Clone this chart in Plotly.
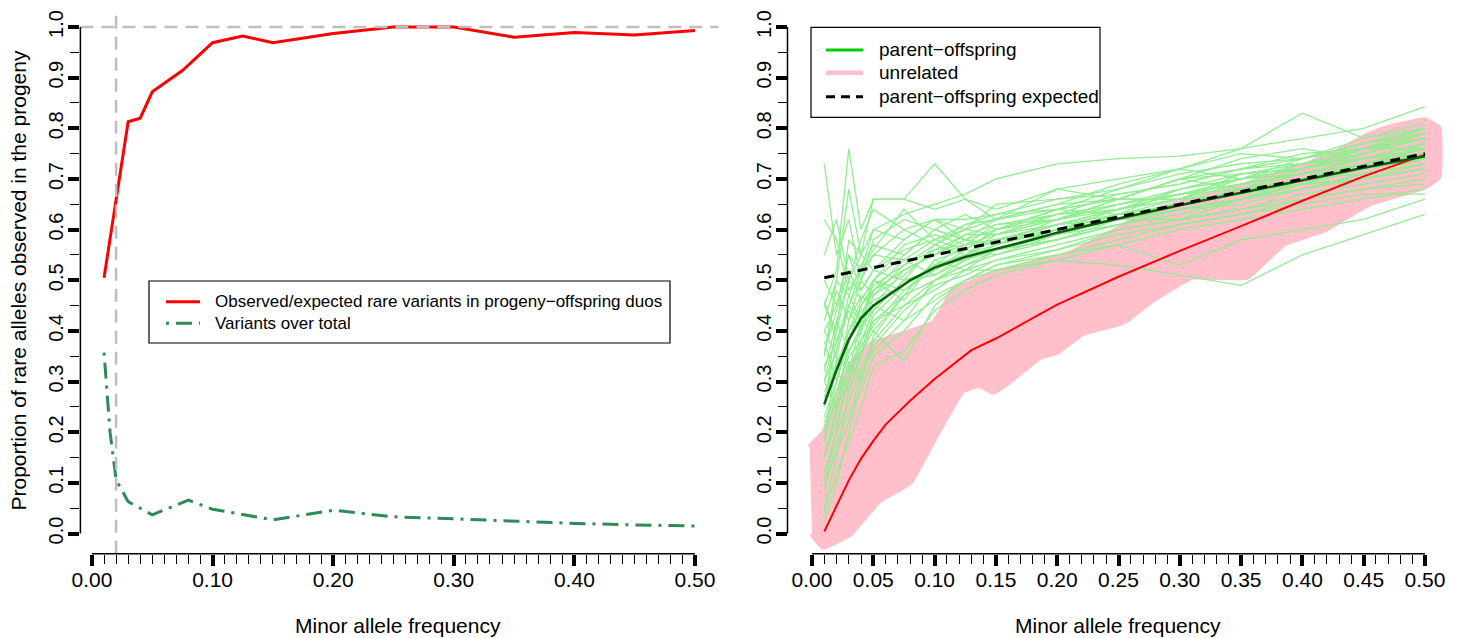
import plotly.graph_objects as go

# ---------------- data: left panel ----------------
obs_x = [0.01, 0.03, 0.04, 0.05, 0.075, 0.10, 0.125, 0.15, 0.20, 0.25, 0.30, 0.35, 0.40, 0.45, 0.50]
obs_y = [0.505, 0.813, 0.820, 0.872, 0.914, 0.969, 0.982, 0.969, 0.987, 1.0, 1.0, 0.980, 0.989, 0.984, 0.993]

var_x = [0.01, 0.015, 0.02, 0.03, 0.05, 0.08, 0.10, 0.15, 0.20, 0.25, 0.30, 0.35, 0.40, 0.45, 0.50]
var_y = [0.357, 0.20, 0.106, 0.063, 0.037, 0.066, 0.048, 0.027, 0.046, 0.033, 0.029, 0.024, 0.020, 0.017, 0.015]

ref_h = 1.0    # horizontal reference line
ref_v = 0.02   # vertical reference line

# ---------------- data: right panel ----------------
g_x = [0.01, 0.02, 0.03, 0.04, 0.05, 0.075, 0.10, 0.125, 0.15, 0.20, 0.25, 0.30, 0.35, 0.40, 0.45, 0.50]
po_lines = [
    [0.73, 0.55, 0.62, 0.50, 0.58, 0.62, 0.60, 0.58, 0.62, 0.65, 0.66, 0.70, 0.72, 0.75, 0.76, 0.79],
    [0.45, 0.52, 0.76, 0.60, 0.66, 0.66, 0.64, 0.66, 0.62, 0.68, 0.70, 0.72, 0.70, 0.74, 0.76, 0.78],
    [0.30, 0.40, 0.58, 0.55, 0.66, 0.66, 0.73, 0.66, 0.64, 0.68, 0.66, 0.70, 0.74, 0.76, 0.74, 0.77],
    [0.40, 0.45, 0.55, 0.52, 0.60, 0.58, 0.62, 0.60, 0.65, 0.66, 0.68, 0.72, 0.76, 0.83, 0.78, 0.80],
    [0.35, 0.50, 0.68, 0.55, 0.60, 0.63, 0.65, 0.67, 0.70, 0.73, 0.74, 0.745, 0.76, 0.78, 0.80, 0.843],
    [0.15, 0.25, 0.30, 0.38, 0.42, 0.45, 0.50, 0.52, 0.52, 0.54, 0.53, 0.51, 0.49, 0.55, 0.59, 0.63],
    [0.10, 0.20, 0.32, 0.36, 0.40, 0.34, 0.45, 0.50, 0.53, 0.55, 0.57, 0.53, 0.58, 0.60, 0.62, 0.66],
    [0.25, 0.38, 0.45, 0.42, 0.50, 0.55, 0.60, 0.58, 0.57, 0.62, 0.64, 0.67, 0.69, 0.71, 0.73, 0.75],
    [0.20, 0.30, 0.38, 0.45, 0.48, 0.52, 0.55, 0.57, 0.58, 0.60, 0.63, 0.65, 0.68, 0.70, 0.72, 0.74],
    [0.05, 0.15, 0.28, 0.35, 0.42, 0.47, 0.50, 0.53, 0.55, 0.58, 0.61, 0.63, 0.66, 0.68, 0.71, 0.73],
    [0.32, 0.42, 0.50, 0.48, 0.52, 0.56, 0.58, 0.56, 0.60, 0.63, 0.65, 0.68, 0.70, 0.73, 0.75, 0.78],
    [0.40, 0.35, 0.45, 0.50, 0.47, 0.53, 0.56, 0.59, 0.61, 0.62, 0.66, 0.66, 0.71, 0.72, 0.76, 0.76],
    [0.15, 0.22, 0.30, 0.40, 0.45, 0.42, 0.50, 0.54, 0.57, 0.60, 0.62, 0.64, 0.66, 0.69, 0.70, 0.72],
    [0.28, 0.33, 0.40, 0.46, 0.50, 0.48, 0.53, 0.55, 0.58, 0.61, 0.64, 0.66, 0.67, 0.70, 0.73, 0.76],
    [0.45, 0.40, 0.50, 0.55, 0.52, 0.50, 0.57, 0.60, 0.59, 0.63, 0.67, 0.69, 0.72, 0.74, 0.77, 0.80],
    [0.02, 0.10, 0.20, 0.30, 0.38, 0.45, 0.48, 0.52, 0.54, 0.57, 0.60, 0.62, 0.64, 0.67, 0.69, 0.71],
    [0.35, 0.48, 0.42, 0.50, 0.55, 0.60, 0.57, 0.61, 0.62, 0.64, 0.63, 0.68, 0.70, 0.71, 0.74, 0.75],
    [0.22, 0.28, 0.35, 0.38, 0.44, 0.50, 0.52, 0.56, 0.55, 0.59, 0.61, 0.64, 0.65, 0.68, 0.71, 0.74],
    [0.18, 0.35, 0.32, 0.42, 0.40, 0.47, 0.54, 0.52, 0.56, 0.58, 0.62, 0.62, 0.66, 0.68, 0.70, 0.73],
    [0.30, 0.25, 0.38, 0.43, 0.48, 0.54, 0.51, 0.55, 0.57, 0.60, 0.64, 0.66, 0.69, 0.71, 0.72, 0.77],
    [0.50, 0.45, 0.55, 0.48, 0.52, 0.58, 0.62, 0.58, 0.60, 0.64, 0.66, 0.70, 0.68, 0.72, 0.75, 0.79],
    [0.12, 0.20, 0.26, 0.33, 0.37, 0.44, 0.49, 0.51, 0.54, 0.56, 0.59, 0.61, 0.63, 0.66, 0.68, 0.70],
    [0.38, 0.30, 0.42, 0.47, 0.45, 0.52, 0.55, 0.58, 0.57, 0.61, 0.62, 0.65, 0.67, 0.69, 0.73, 0.75],
    [0.25, 0.42, 0.36, 0.40, 0.50, 0.46, 0.54, 0.56, 0.60, 0.62, 0.65, 0.67, 0.70, 0.72, 0.74, 0.77],
    [0.08, 0.18, 0.24, 0.28, 0.35, 0.40, 0.47, 0.50, 0.53, 0.56, 0.60, 0.62, 0.64, 0.66, 0.68, 0.69],
    [0.42, 0.50, 0.47, 0.53, 0.57, 0.55, 0.60, 0.63, 0.60, 0.64, 0.68, 0.71, 0.73, 0.74, 0.77, 0.79],
    [0.20, 0.26, 0.33, 0.37, 0.41, 0.48, 0.52, 0.55, 0.58, 0.59, 0.62, 0.64, 0.66, 0.70, 0.71, 0.74],
    [0.33, 0.38, 0.44, 0.40, 0.47, 0.51, 0.56, 0.57, 0.59, 0.62, 0.65, 0.67, 0.69, 0.73, 0.74, 0.76],
    [0.27, 0.32, 0.28, 0.36, 0.43, 0.49, 0.53, 0.54, 0.56, 0.59, 0.63, 0.65, 0.68, 0.69, 0.72, 0.75],
    [0.55, 0.62, 0.50, 0.58, 0.64, 0.60, 0.62, 0.62, 0.63, 0.66, 0.67, 0.69, 0.72, 0.73, 0.76, 0.78],
    [0.10, 0.16, 0.22, 0.32, 0.36, 0.42, 0.46, 0.50, 0.52, 0.55, 0.58, 0.61, 0.63, 0.65, 0.67, 0.67],
    [0.36, 0.44, 0.52, 0.46, 0.50, 0.57, 0.59, 0.57, 0.61, 0.63, 0.64, 0.68, 0.71, 0.72, 0.76, 0.80],
    [0.23, 0.30, 0.40, 0.44, 0.46, 0.49, 0.53, 0.57, 0.58, 0.61, 0.63, 0.66, 0.67, 0.70, 0.73, 0.76],
    [0.15, 0.24, 0.34, 0.30, 0.39, 0.47, 0.50, 0.53, 0.56, 0.58, 0.61, 0.64, 0.66, 0.69, 0.70, 0.72],
    [0.62, 0.58, 0.48, 0.52, 0.56, 0.64, 0.58, 0.60, 0.62, 0.65, 0.69, 0.72, 0.75, 0.74, 0.78, 0.81],
    [0.30, 0.36, 0.47, 0.42, 0.48, 0.52, 0.55, 0.59, 0.59, 0.62, 0.66, 0.66, 0.70, 0.72, 0.75, 0.78],
    [0.04, 0.12, 0.18, 0.25, 0.33, 0.36, 0.44, 0.48, 0.51, 0.54, 0.57, 0.60, 0.62, 0.64, 0.66, 0.68],
    [0.26, 0.34, 0.38, 0.45, 0.49, 0.53, 0.57, 0.55, 0.59, 0.61, 0.64, 0.67, 0.68, 0.71, 0.74, 0.77],
    [0.46, 0.38, 0.45, 0.52, 0.55, 0.54, 0.58, 0.61, 0.63, 0.64, 0.66, 0.70, 0.71, 0.73, 0.76, 0.78],
    [0.18, 0.28, 0.36, 0.41, 0.44, 0.50, 0.51, 0.54, 0.56, 0.60, 0.63, 0.65, 0.67, 0.70, 0.72, 0.74],
]

po_mean_x = [0.01, 0.02, 0.03, 0.04, 0.05, 0.06, 0.08, 0.10, 0.125, 0.15, 0.175, 0.20, 0.25, 0.30, 0.35, 0.40, 0.45, 0.50]
po_mean_y = [0.255, 0.323, 0.383, 0.425, 0.450, 0.467, 0.500, 0.525, 0.546, 0.562, 0.577, 0.594, 0.622, 0.648, 0.673, 0.698, 0.722, 0.745]

exp_x = [0.01, 0.50]
exp_y = [0.505, 0.750]

unrel_mean_x = [0.01, 0.02, 0.03, 0.04, 0.05, 0.06, 0.08, 0.10, 0.13, 0.15, 0.20, 0.25, 0.30, 0.35, 0.40, 0.45, 0.50]
unrel_mean_y = [0.004, 0.055, 0.105, 0.148, 0.183, 0.215, 0.262, 0.305, 0.362, 0.385, 0.452, 0.507, 0.558, 0.607, 0.657, 0.705, 0.748]

# envelope of the (thick) unrelated curves
band_lo_x = [0.0, 0.009, 0.031, 0.055, 0.08, 0.102, 0.123, 0.137, 0.148, 0.159, 0.186, 0.20, 0.221, 0.254, 0.277, 0.31, 0.355, 0.385, 0.417, 0.455, 0.50, 0.511]
band_lo_y = [0.0, -0.026, 0.0, 0.066, 0.102, 0.198, 0.283, 0.293, 0.28, 0.297, 0.349, 0.359, 0.396, 0.418, 0.46, 0.507, 0.507, 0.573, 0.599, 0.652, 0.685, 0.704]
band_hi_x = [-0.002, 0.01, 0.031, 0.047, 0.072, 0.099, 0.106, 0.115, 0.131, 0.153, 0.18, 0.208, 0.235, 0.276, 0.30, 0.357, 0.40, 0.43, 0.45, 0.466, 0.50, 0.511]
band_hi_y = [0.17, 0.20, 0.33, 0.372, 0.392, 0.415, 0.44, 0.48, 0.496, 0.516, 0.534, 0.55, 0.582, 0.635, 0.652, 0.688, 0.725, 0.755, 0.782, 0.798, 0.816, 0.80]

# tick labels
left_xtick_vals = [0.0, 0.05, 0.10, 0.15, 0.20, 0.25, 0.30, 0.35, 0.40, 0.45, 0.50]
left_xtick_text = ["0.00", "", "0.10", "", "0.20", "", "0.30", "", "0.40", "", "0.50"]
right_xtick_vals = left_xtick_vals
right_xtick_text = ["0.00", "0.05", "0.10", "0.15", "0.20", "0.25", "0.30", "0.35", "0.40", "0.45", "0.50"]
ytick_vals = [0.0, 0.1, 0.2, 0.3, 0.4, 0.5, 0.6, 0.7, 0.8, 0.9, 1.0]
ytick_text = ["0.0", "0.1", "0.2", "0.3", "0.4", "0.5", "0.6", "0.7", "0.8", "0.9", "1.0"]
x_minor = [round(i * 0.01, 2) for i in range(51)]
y_minor = [round(0.05 + i * 0.1, 2) for i in range(10)]

# legend texts
left_legend = ["Observed/expected rare variants in progeny\u2212offspring duos", "Variants over total"]
right_legend = ["parent\u2212offspring", "unrelated", "parent\u2212offspring expected"]

# ---------------- figure ----------------
OFF = 8                       # page body margin
W, H = 1461 - OFF, 638 - OFF
FONT = "Liberation Sans, Arial, sans-serif"

def px(p):  # page x pixel -> paper
    return (p - OFF) / W

def py(p):  # page y pixel -> paper
    return 1 - (p - OFF) / H

Y_BOT = 553.8
Y_DOM = [py(Y_BOT), 1.0]
Y_TOP_VAL = (533.5 - OFF) / 506.5   # value at top of figure

fig = go.Figure()

# left panel
fig.add_trace(go.Scatter(x=obs_x, y=obs_y, mode="lines", line=dict(color="#FF0000", width=3),
                         showlegend=False, xaxis="x", yaxis="y", hoverinfo="skip"))
fig.add_trace(go.Scatter(x=var_x, y=var_y, mode="lines",
                         line=dict(color="#2E8B57", width=3, dash="3px,7px,16px,7px"),
                         showlegend=False, xaxis="x", yaxis="y", hoverinfo="skip"))

# right panel: band
fig.add_trace(go.Scatter(x=band_lo_x + band_hi_x[::-1], y=band_lo_y + band_hi_y[::-1],
                         mode="lines", fill="toself", fillcolor="#FFC0CB",
                         line=dict(color="#FFC0CB", width=6, shape="spline", smoothing=0.3),
                         showlegend=False, xaxis="x2", yaxis="y2", hoverinfo="skip"))
for ln in po_lines:
    fig.add_trace(go.Scatter(x=g_x, y=ln, mode="lines", line=dict(color="#90EE90", width=1.3),
                             showlegend=False, xaxis="x2", yaxis="y2", hoverinfo="skip"))
fig.add_trace(go.Scatter(x=unrel_mean_x, y=unrel_mean_y, mode="lines", line=dict(color="#FF0000", width=2),
                         showlegend=False, xaxis="x2", yaxis="y2", hoverinfo="skip"))
fig.add_trace(go.Scatter(x=po_mean_x, y=po_mean_y, mode="lines", line=dict(color="#0B5E0B", width=2.5),
                         showlegend=False, xaxis="x2", yaxis="y2", hoverinfo="skip"))
fig.add_trace(go.Scatter(x=exp_x, y=exp_y, mode="lines", line=dict(color="black", width=3, dash="10px,7px"),
                         showlegend=False, xaxis="x2", yaxis="y2", hoverinfo="skip"))

axis_common = dict(showgrid=False, zeroline=False, showline=False, ticks="outside", ticklen=11,
                   tickwidth=3.5, tickcolor="black", automargin=False, fixedrange=True)

def xaxis_cfg(domain, rng, vals, text, anchor):
    d = dict(axis_common)
    d.update(domain=domain, range=rng, anchor=anchor, tickmode="array", tickvals=vals, ticktext=text,
             tickfont=dict(family=FONT, size=21, color="black"), ticklabelstandoff=-4,
             minor=dict(tickmode="array", tickvals=x_minor, ticks="outside", ticklen=9, tickwidth=1.3,
                        tickcolor="black", showgrid=False))
    return d

def yaxis_cfg(anchor):
    d = dict(axis_common)
    d.update(domain=Y_DOM, range=[-0.04, Y_TOP_VAL], anchor=anchor, tickmode="array", tickvals=ytick_vals,
             ticktext=ytick_text, tickangle=-90, tickfont=dict(family=FONT, size=20, color="black"),
             ticklabelstandoff=-3,
             minor=dict(tickmode="array", tickvals=y_minor, ticks="outside", ticklen=9, tickwidth=1.3,
                        tickcolor="black", showgrid=False))
    return d

fig.update_layout(
    width=W, height=H, template="none",
    margin=dict(l=0, r=0, t=0, b=0),
    paper_bgcolor="white", plot_bgcolor="white",
    font=dict(family=FONT, size=20, color="black"),
    xaxis=xaxis_cfg([px(80.4), px(718.6)], [-0.0096, 0.5196], left_xtick_vals, left_xtick_text, "y"),
    yaxis=yaxis_cfg("x"),
    xaxis2=xaxis_cfg([px(787.5), px(1449.5)], [-0.02, 0.52], right_xtick_vals, right_xtick_text, "y2"),
    yaxis2=yaxis_cfg("x2"),
    showlegend=False,
)

shapes = []
# reference lines (left)
shapes.append(dict(type="line", xref="x domain", yref="y", x0=0, x1=1, y0=ref_h, y1=ref_h,
                   line=dict(color="#BEBEBE", width=2.5, dash="13px,8px"), layer="above"))
shapes.append(dict(type="line", xref="x", yref="y domain", x0=ref_v, x1=ref_v, y0=0, y1=1,
                   line=dict(color="#BEBEBE", width=2.5, dash="13px,8px"), layer="above"))
# axis lines (span first to last tick, like R)
for xr, yr in (("x", "y"), ("x2", "y2")):
    shapes.append(dict(type="line", xref=xr, yref=yr + " domain", x0=0, x1=0.5, y0=0, y1=0,
                       line=dict(color="black", width=1.5)))
    shapes.append(dict(type="line", xref=xr + " domain", yref=yr, x0=0, x1=0, y0=0, y1=1.0,
                       line=dict(color="black", width=1.5)))

# legend boxes (drawn as shapes + text annotations)
shapes.append(dict(type="rect", xref="paper", yref="paper", x0=px(149), x1=px(670), y0=py(343), y1=py(281),
                   fillcolor="white", line=dict(color="black", width=1.2), layer="above"))
shapes.append(dict(type="line", xref="paper", yref="paper", x0=px(166), x1=px(200), y0=py(301.7), y1=py(301.7),
                   line=dict(color="#FF0000", width=3), layer="above"))
shapes.append(dict(type="line", xref="paper", yref="paper", x0=px(166), x1=px(200), y0=py(323.3), y1=py(323.3),
                   line=dict(color="#2E8B57", width=3, dash="3px,7px,16px,7px"), layer="above"))
shapes.append(dict(type="rect", xref="paper", yref="paper", x0=px(811), x1=px(1100), y0=py(117.3), y1=py(27.3),
                   fillcolor="white", line=dict(color="black", width=1.2), layer="above"))
shapes.append(dict(type="line", xref="paper", yref="paper", x0=px(826), x1=px(863), y0=py(50), y1=py(50),
                   line=dict(color="#00CD00", width=3), layer="above"))
shapes.append(dict(type="line", xref="paper", yref="paper", x0=px(826), x1=px(863), y0=py(72.7), y1=py(72.7),
                   line=dict(color="#FFC0CB", width=4.5), layer="above"))
shapes.append(dict(type="line", xref="paper", yref="paper", x0=px(826), x1=px(863), y0=py(96.7), y1=py(96.7),
                   line=dict(color="black", width=3, dash="9px,6px"), layer="above"))
fig.update_layout(shapes=shapes)

annotations = [
    dict(text="Proportion of rare alleles observed in the progeny", textangle=-90, showarrow=False,
         xref="paper", yref="paper", x=px(18), y=py(280.5), xanchor="center", yanchor="middle",
         font=dict(family=FONT, size=21, color="black")),
    dict(text="Minor allele frequency", showarrow=False, xref="paper", yref="paper",
         x=px(398), y=py(625), xanchor="center", yanchor="middle",
         font=dict(family=FONT, size=21, color="black")),
    dict(text="Minor allele frequency", showarrow=False, xref="paper", yref="paper",
         x=px(1118), y=py(625), xanchor="center", yanchor="middle",
         font=dict(family=FONT, size=21, color="black")),
]
for txt, yy in zip(left_legend, [301.7, 323.3]):
    annotations.append(dict(text=txt, showarrow=False, xref="paper", yref="paper", x=px(213), y=py(yy),
                            xanchor="left", yanchor="middle", font=dict(family=FONT, size=17, color="black")))
for txt, yy in zip(right_legend, [50, 72.7, 96.7]):
    annotations.append(dict(text=txt, showarrow=False, xref="paper", yref="paper", x=px(877), y=py(yy),
                            xanchor="left", yanchor="middle", font=dict(family=FONT, size=19, color="black")))
fig.update_layout(annotations=annotations)

fig.write_html("out.html")
